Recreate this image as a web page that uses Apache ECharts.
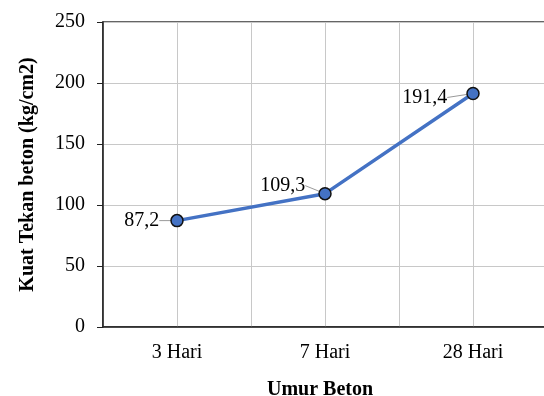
<!DOCTYPE html>
<html>
<head>
<meta charset="utf-8">
<script src="https://cdn.jsdelivr.net/npm/echarts@6/dist/echarts.min.js"></script>
<style>html,body{margin:0;padding:0;background:#fff}#c{width:544px;height:396px}</style>
</head>
<body>
<div id="c"></div>
<script>
var categories = ['3 Hari', '7 Hari', '28 Hari'];
var values = [87.2, 109.3, 191.4];
var yTicks = [0, 50, 100, 150, 200, 250];
var xTitle = 'Umur Beton';
var yTitle = 'Kuat Tekan beton (kg/cm2)';

var font = '"Liberation Serif", "Times New Roman", serif';
var chart = echarts.init(document.getElementById('c'));
var halfBands = [];
categories.forEach(function () { halfBands.push(''); halfBands.push(''); });
chart.setOption({
  animation: false,
  grid: { left: 103, top: 22, right: -3, bottom: 69, containLabel: false, outerBoundsMode: 'none', show: true, borderColor: '#333', borderWidth: 1.5, backgroundColor: 'transparent' },
  xAxis: [{
    type: 'category',
    data: categories,
    boundaryGap: true,
    name: xTitle,
    nameLocation: 'middle',
    nameGap: 53,
    nameTextStyle: { fontFamily: font, fontSize: 20, fontWeight: 'bold', color: '#000', padding: [0, 10, 0, 0] },
    axisLine: { lineStyle: { color: '#222', width: 1.5 } },
    axisTick: { alignWithLabel: true, length: 5, lineStyle: { color: '#222' } },
    axisLabel: { fontFamily: font, fontSize: 20, color: '#000', margin: 16 },
    splitLine: { show: false }
  }, {
    type: 'category',
    data: halfBands,
    position: 'bottom',
    boundaryGap: true,
    axisLine: { show: false },
    axisTick: { show: false },
    axisLabel: { show: false },
    splitLine: { show: true, lineStyle: { color: '#c8c8c8', width: 1 } }
  }],
  yAxis: {
    type: 'value',
    min: yTicks[0],
    max: yTicks[yTicks.length - 1],
    interval: yTicks[1] - yTicks[0],
    name: yTitle,
    nameLocation: 'middle',
    nameGap: 65,
    nameTextStyle: { fontFamily: font, fontSize: 20, fontWeight: 'bold', color: '#000' },
    axisLine: { show: true, lineStyle: { color: '#222', width: 1.5 } },
    axisTick: { show: true, length: 6, lineStyle: { color: '#222' } },
    axisLabel: { fontFamily: font, fontSize: 20, color: '#000', margin: 18 },
    splitLine: { show: true, lineStyle: { color: '#c8c8c8', width: 1 } }
  },
  series: [{
    type: 'line',
    xAxisIndex: 0,
    data: values,
    symbol: 'circle',
    symbolSize: 12,
    lineStyle: { color: '#4472C4', width: 3.5 },
    itemStyle: { color: '#4472C4', borderColor: '#111', borderWidth: 1.5 },
    label: {
      show: true,
      position: 'left',
      distance: 11,
      fontFamily: font,
      fontSize: 20,
      color: '#000',
      formatter: function (p) { return String(p.value).replace('.', ','); }
    },
    labelLine: { show: true, lineStyle: { color: '#999', width: 1 } },
    labelLayout: function (params) {
      if (params.dataIndex === 1) return { dx: -2, dy: -8 };
      if (params.dataIndex === 2) return { dx: -8, dy: 4 };
      return {};
    },
    z: 5
  }]
});
</script>
</body>
</html>
